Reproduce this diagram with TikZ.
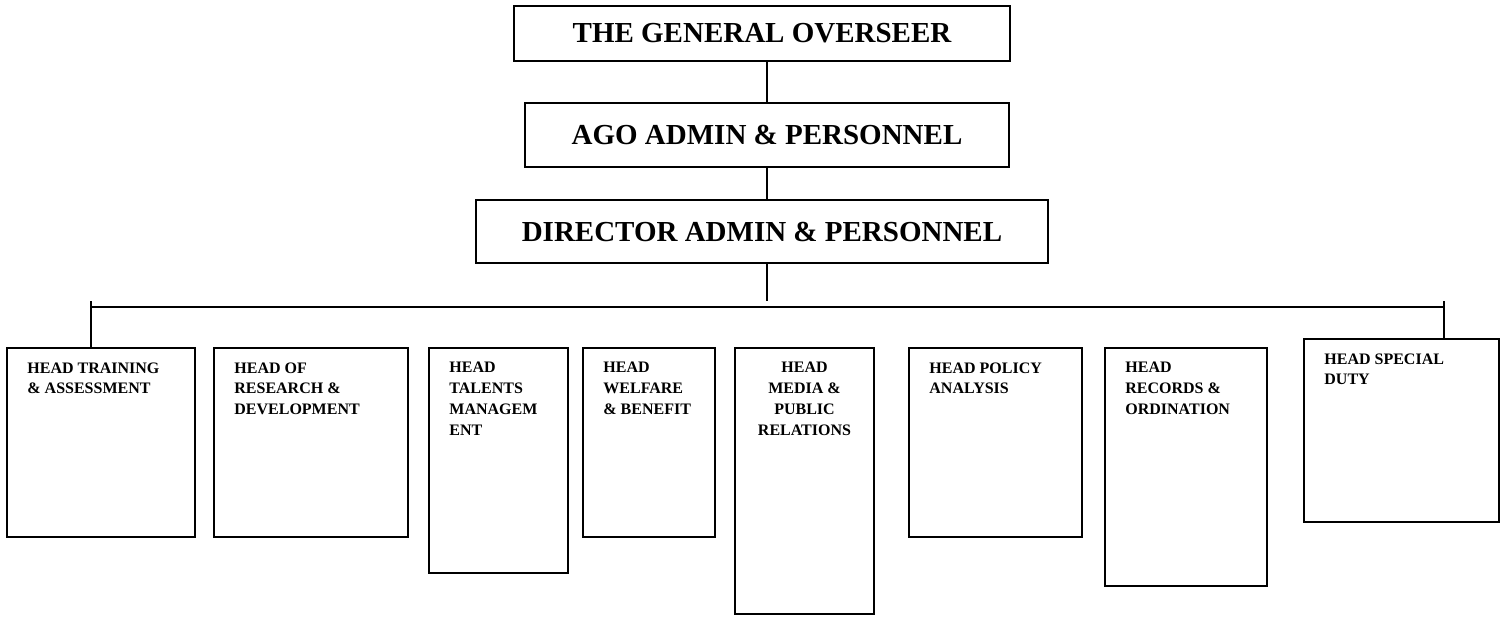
\documentclass[tikz,border=0pt]{standalone}
\usepackage{fontspec}
\setmainfont{Liberation Serif}
\usetikzlibrary{calc}
\begin{document}
\begin{tikzpicture}[x=0.5pt,y=-0.5pt,
  bigbox/.style={draw, line width=1pt, inner sep=0pt, font=\fontsize{14.5pt}{17pt}\selectfont\bfseries},
  headbox/.style={draw, line width=1pt, inner sep=0pt},
  headtext/.style={inner sep=0pt, anchor=north west, align=left, font=\fontsize{8pt}{10.35pt}\selectfont\bfseries},
  link/.style={line width=1pt}]
\useasboundingbox (0,0) rectangle (1503,616);

% top chain
\node[bigbox, minimum width=248pt, minimum height=27.5pt] (go) at (762,33.5) {THE GENERAL OVERSEER};
\node[bigbox, minimum width=242pt, minimum height=32pt] (ago) at (767,135) {AGO ADMIN \& PERSONNEL};
\node[bigbox, minimum width=286pt, minimum height=31.5pt] (dir) at (762,231.5) {DIRECTOR ADMIN \& PERSONNEL};

% heads
\node[headbox, minimum width=94pt, minimum height=94.5pt] (b1) at (101,442.5) {};
\node[headbox, minimum width=97pt, minimum height=94.5pt] (b2) at (311,442.5) {};
\node[headbox, minimum width=69.5pt, minimum height=112.5pt] (b3) at (498.5,460.5) {};
\node[headbox, minimum width=66pt, minimum height=94.5pt] (b4) at (649,442.5) {};
\node[headbox, minimum width=69.5pt, minimum height=133pt] (b5) at (804.5,481) {};
\node[headbox, minimum width=86.5pt, minimum height=94.5pt] (b6) at (995.5,442.5) {};
\node[headbox, minimum width=81pt, minimum height=119pt] (b7) at (1186,467) {};
\node[headbox, minimum width=97.5pt, minimum height=91.5pt] (b8) at (1401.5,430.5) {};

\node[headtext] (t1) at ($(b1.north west)+(21,15)$) {HEAD TRAINING\\\& ASSESSMENT};
\node[headtext] (t2) at ($(b2.north west)+(21,15)$) {HEAD OF\\RESEARCH \&\\DEVELOPMENT};
\node[headtext] (t3) at ($(b3.north west)+(21,15)$) {HEAD\\TALENTS\\MANAGEM\\ENT};
\node[headtext] (t4) at ($(b4.north west)+(21,15)$) {HEAD\\WELFARE\\\& BENEFIT};
\node[headtext, anchor=north, align=center] (t5) at ($(b5.north)+(0,15)$) {HEAD\\MEDIA \&\\PUBLIC\\RELATIONS};
\node[headtext] (t6) at ($(b6.north west)+(21,15)$) {HEAD POLICY\\ANALYSIS};
\node[headtext] (t7) at ($(b7.north west)+(21,15)$) {HEAD\\RECORDS \&\\ORDINATION};
\node[headtext] (t8) at ($(b8.north west)+(21,15)$) {HEAD SPECIAL\\DUTY};

% connectors
\coordinate (trunk) at (767,301);
\coordinate (busL) at (91,307);
\coordinate (busR) at (1444,307);
\coordinate (dropL) at (91,301);
\coordinate (dropR) at (1444,301);
\draw[link] (go.south -| trunk) -- (ago.north -| trunk);
\draw[link] (ago.south -| trunk) -- (dir.north -| trunk);
\draw[link] (dir.south -| trunk) -- (trunk);
\draw[link] (busL) -- (busR);
\draw[link] (dropL) -- (b1.north -| dropL);
\draw[link] (dropR) -- (b8.north -| dropR);
\end{tikzpicture}
\end{document}
